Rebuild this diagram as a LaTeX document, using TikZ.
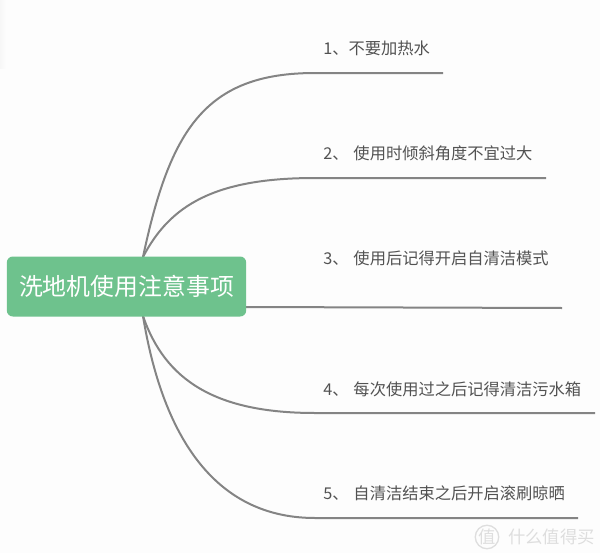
\documentclass[tikz,border=0pt]{standalone}
\usepackage{fontspec}
\setmainfont{Noto Sans CJK SC}
\definecolor{bgc}{RGB}{253,253,253}
\definecolor{rootc}{RGB}{110,194,141}
\definecolor{linec}{RGB}{132,132,132}
\definecolor{wm}{RGB}{222,222,222}
\tikzset{x=0.75pt,y=-0.75pt,
 lab/.style={anchor=base west,inner sep=0pt,font=\fontsize{12.2pt}{14pt}\selectfont,text=black!68},
 branch/.style={draw=linec,line width=1.5pt},
 root/.style={fill=rootc,rounded corners=4.5pt,text=white,font=\fontsize{17.9pt}{21pt}\selectfont,minimum width=179.5pt,minimum height=45pt,inner sep=0pt},
 wmtext/.style={text=wm,inner sep=0pt,font=\fontsize{13pt}{15pt}\selectfont}}
\begin{document}
\begin{tikzpicture}
\useasboundingbox (0,0) rectangle (600,553);
\fill[bgc] (0,0) rectangle (600,553);
\shade[left color=black!3,right color=bgc] (0,0) rectangle (6,68);
\coordinate (st) at (143,257);
\coordinate (sm) at (246,307);
\coordinate (sb) at (143,316);
\coordinate (e1) at (443,73);
\coordinate (e2) at (546,178);
\coordinate (e3) at (562,308);
\coordinate (e4) at (595,413);
\coordinate (e5) at (578,518);
\draw[branch] (st) .. controls (170,130) and (205,73) .. (315,73) -- (e1);
\draw[branch] (st) .. controls (170,205) and (215,178) .. (315,178) -- (e2);
\draw[branch] (sm) -- (e3);
\draw[branch] (sb) .. controls (165,380) and (215,413) .. (315,413) -- (e4);
\draw[branch] (sb) .. controls (160,420) and (205,518) .. (315,518) -- (e5);
\node[root] (r) at (126.5,286.5) {洗地机使用注意事项};
\node[lab] (t1) at (323,54) {1、不要加热水};
\node[lab] (t2) at (323,159) {2、\hspace{3.7pt}使用时倾斜角度不宜过大};
\node[lab] (t3) at (323,264.5) {3、\hspace{3.7pt}使用后记得开启自清洁模式};
\node[lab] (t4) at (323,395) {4、\hspace{3.7pt}每次使用过之后记得清洁污水箱};
\node[lab] (t5) at (323,499) {5、\hspace{3.7pt}自清洁结束之后开启滚刷晾晒};
\node[wmtext,draw=wm,circle,line width=1pt,minimum size=15pt] (w1) at (487,537) {值};
\node[wmtext,anchor=west] (w2) at (508,537) {什么值得买};
\end{tikzpicture}
\end{document}
